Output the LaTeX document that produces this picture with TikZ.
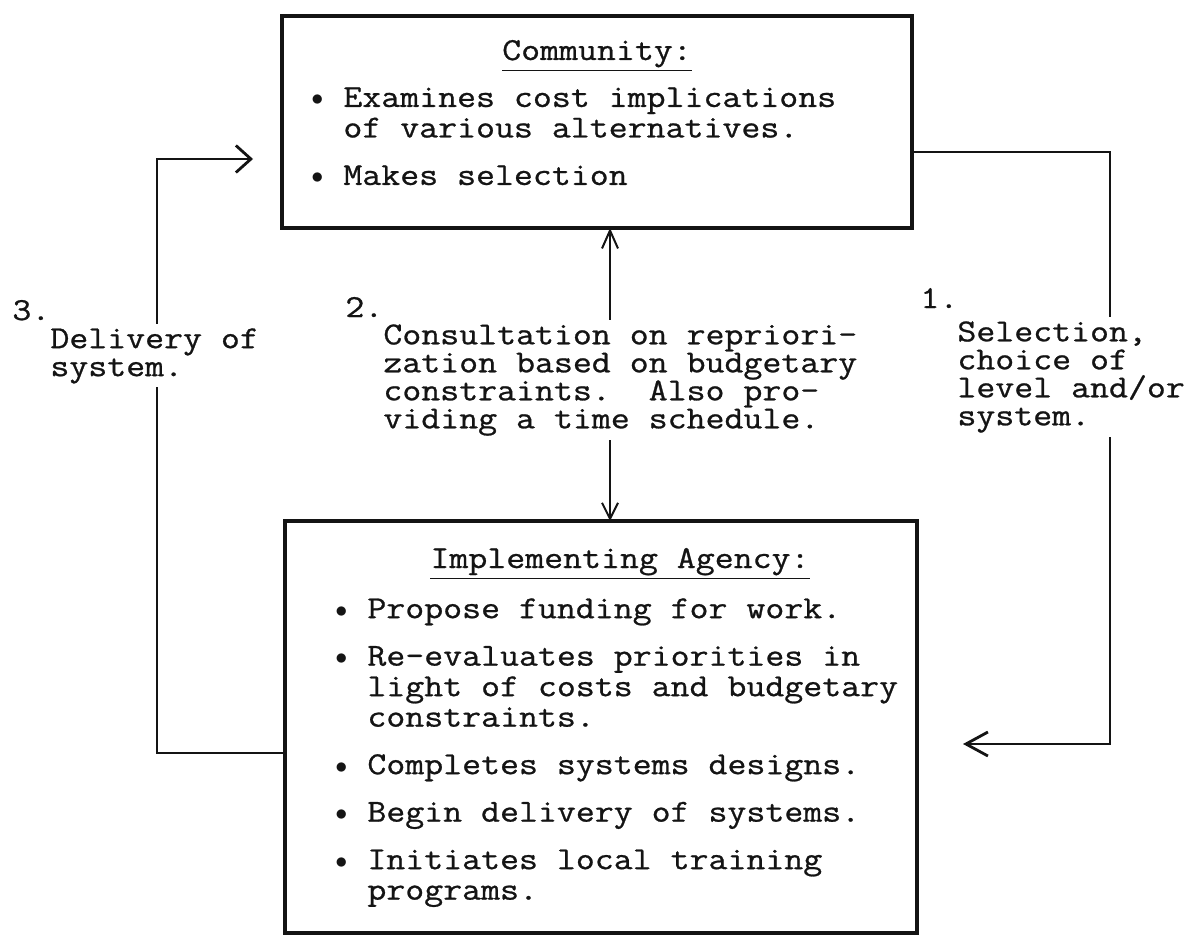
\documentclass[tikz,border=0pt]{standalone}
\usepackage{fontspec}
\setmonofont[FakeStretch=1.15,FakeBold=0.8]{Latin Modern Mono}
\usepackage{tikz}
\usetikzlibrary{arrows.meta,positioning}
\definecolor{TWink}{RGB}{20,20,20}
\setlength{\lineskiplimit}{-20pt}
\newcommand{\blt}{\makebox[16pt][l]{\raisebox{0.5pt}{\fontsize{12pt}{12pt}\selectfont$\bullet$}}}
\newcommand{\ind}{\hspace*{16pt}}
\tikzset{
  card/.style={draw=TWink,line width=1.6pt,inner sep=0pt,outer sep=0pt,anchor=north west},
  head/.style={font=\ttfamily\fontsize{16pt}{15.25pt}\selectfont,text=TWink,inner sep=0pt,anchor=base},
  items/.style={font=\ttfamily\fontsize{16pt}{15.25pt}\selectfont,text=TWink,
                align=left,inner sep=0pt,anchor=north west},
  note/.style={font=\ttfamily\fontsize{16pt}{14pt}\selectfont,text=TWink,
               align=left,inner sep=2pt,fill=white,anchor=north west},
  num/.style={font=\ttfamily\fontsize{16pt}{14pt}\selectfont,text=TWink,inner sep=0pt,anchor=base west},
  fl/.style={line width=1.4pt,draw=TWink},
  flm/.style={line width=1pt,draw=TWink,{Straight Barb[length=9pt,width=8pt]}-{Straight Barb[length=8pt,width=8pt]}}
}

\begin{document}
\begin{tikzpicture}[x=0.5pt,y=-0.5pt]
  \useasboundingbox (0,0) rectangle (1193,936);
  \node[card,minimum width=315pt,minimum height=106pt] (comm) at (282,16) {};
  \node[card,minimum width=316pt,minimum height=206pt] (impl) at (285,521) {};
  \node[head] (commhead) at (597,60) {\underline{Community:}};
  \node[items] (commlist) at (311,87) {\blt Examines cost implications\\
    \ind of various alternatives.\\[8.5pt]
    \blt Makes selection};
  \node[head] (implhead) at (620,568) {\underline{Implementing Agency:}};
  \node[items] (impllist) at (335,598) {\blt Propose funding for work.\\[8.5pt]
    \blt Re-evaluates priorities in\\
    \ind light of costs and budgetary\\
    \ind constraints.\\[8.5pt]
    \blt Completes systems designs.\\[8.5pt]
    \blt Begin delivery of systems.\\[8.5pt]
    \blt Initiates local training\\
    \ind programs.};

  \coordinate (c3) at (157,159);
  \coordinate (a3) at (253,159);
  \coordinate (c1) at (1110,744);
  \coordinate (a1) at (963,744);
  \coordinate (m2) at ([xshift=6.5pt]comm.south);
  \draw[fl,-{Straight Barb[length=7.5pt,width=13.5pt]}] ([yshift=-13pt]impl.west) -| (c3) -- (a3);
  \draw[fl,-{Straight Barb[length=11pt,width=12pt]}] ([yshift=-15pt]comm.east) -| (c1) -- (a1);
  \draw[flm] (m2) -- (m2 |- impl.north);

  \node[num] (n3) at (12,320) {3.};
  \node[note] (lbl3) at (46,324) {Delivery of\\system.};
  \node[num] (n2) at (345,317) {2.};
  \node[note] (lbl2) at (379,320) {Consultation on repriori-\\
    zation based on budgetary\\
    constraints.~~Also pro-\\
    viding a time schedule.};
  \node[num] (n1) at (920,308) {1.};
  \node[note] (lbl1) at (953,317) {Selection,\\choice of\\level and/or\\system.};
\end{tikzpicture}
\end{document}
